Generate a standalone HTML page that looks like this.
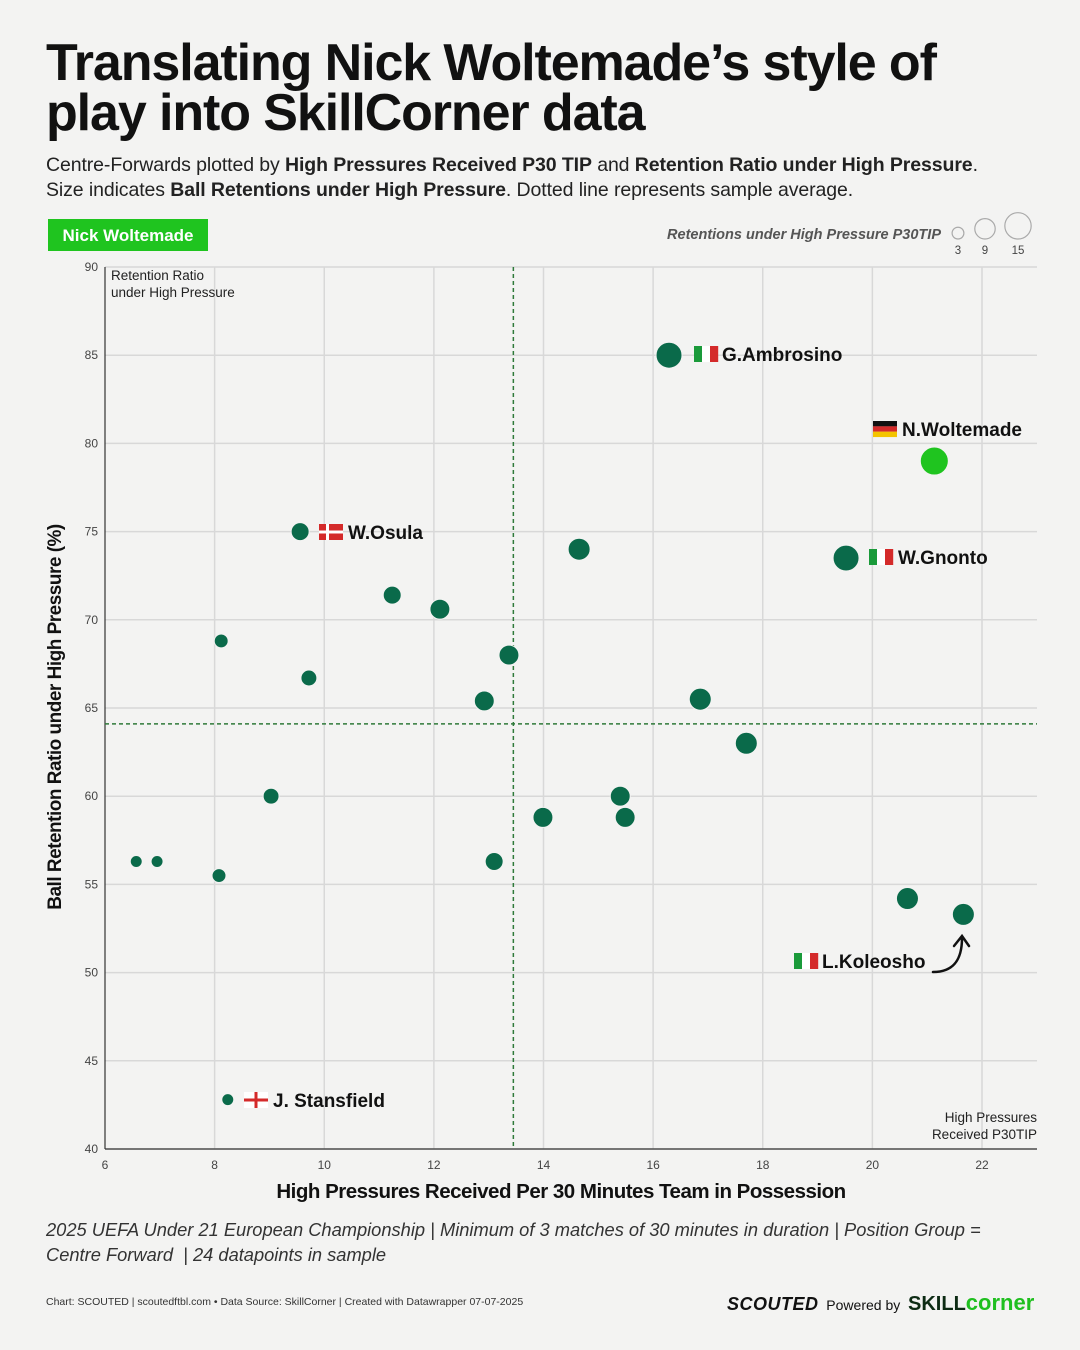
<!DOCTYPE html>
<html><head><meta charset="utf-8"><style>
body{margin:0;background:#f3f3f2;font-family:"Liberation Sans",sans-serif;}
#wrap{position:relative;width:1080px;height:1350px;overflow:hidden;background:#f3f3f2;}
h1{position:absolute;left:46px;top:38px;margin:0;font-size:52px;line-height:50px;font-weight:900;letter-spacing:-1.1px;color:#111;width:1030px;white-space:nowrap;}
.sub{position:absolute;left:46px;top:153px;font-size:19.5px;line-height:25px;color:#222;letter-spacing:-0.1px;}
.foot{position:absolute;left:46px;top:1217px;font-size:18.3px;line-height:25px;font-style:italic;color:#333;}
.src{position:absolute;left:46px;top:1296px;font-size:10.5px;color:#333;}
</style></head><body><div id="wrap">
<h1>Translating Nick Woltemade’s style of<br>play into SkillCorner data</h1>
<div class="sub">Centre-Forwards plotted by <b>High Pressures Received P30 TIP</b> and <b>Retention Ratio under High Pressure</b>.<br>Size indicates <b>Ball Retentions under High Pressure</b>. Dotted line represents sample average.</div>
<svg id="chart" width="1080" height="1350" style="position:absolute;left:0;top:0" font-family="Liberation Sans, sans-serif"></svg>
<div class="foot">2025 UEFA Under 21 European Championship | Minimum of 3 matches of 30 minutes in duration | Position Group =<br>Centre Forward &nbsp;| 24 datapoints in sample</div>
<div class="src">Chart: SCOUTED | scoutedftbl.com • Data Source: SkillCorner | Created with Datawrapper 07-07-2025</div>
<div style="position:absolute;left:727px;top:1290px;font-size:14px;color:#111;white-space:nowrap"><b style="font-style:italic;font-weight:900;font-size:18px;letter-spacing:0.5px">SCOUTED</b>&nbsp; Powered by &nbsp;<b style="font-size:20px;color:#0d2b14">SKILL</b><b style="font-size:22px;color:#1fbf1f">corner</b></div>
</div>
<script>
const names=["G.Ambrosino","N.Woltemade","W.Gnonto","W.Osula","p5","p6","p7","p8","p9","p10","p11","p12","p13","p14","p15","p16","p17","p18","p19","p20","p21","p22","L.Koleosho","J. Stansfield"];
const pressures=[16.29,21.13,19.52,9.56,14.65,11.24,12.11,8.12,13.37,9.72,12.92,16.86,17.7,9.03,15.4,13.99,15.49,6.57,6.95,13.1,8.08,20.64,21.66,8.24];
const retentionRatio=[85,79,73.5,75,74,71.4,70.6,68.8,68,66.7,65.4,65.5,63,60,60,58.8,58.8,56.3,56.3,56.3,55.5,54.2,53.3,42.8];
const retentions=[14.6,17,14.6,7,10.5,7,8.6,4.2,8.6,5.5,8.6,10.5,10.5,5.5,8.6,8.6,8.6,3.1,3.1,7,4.2,10.5,10.5,3.1];
const xTicks=[6,8,10,12,14,16,18,20,22];
const yTicks=[40,45,50,55,60,65,70,75,80,85,90];
const avgX=13.45, avgY=64.1;
const svg=document.getElementById('chart');const NS='http://www.w3.org/2000/svg';
const X=v=>105+(v-6)*54.8125, Y=v=>1149-(v-40)*17.64, R=v=>3.4*Math.sqrt(v);
function mk(t,a,txt){const e=document.createElementNS(NS,t);for(const k in a)e.setAttribute(k,a[k]);if(txt!=null)e.textContent=txt;svg.appendChild(e);return e;}
yTicks.forEach(t=>{const l=mk('line',{x1:105,x2:1037,y1:Y(t),y2:Y(t),stroke:'#d8d8d8','stroke-width':1.5});

const tx=mk('text',{x:98,y:Y(t)+4,'text-anchor':'end','font-size':12,fill:'#444'},t);
});
xTicks.forEach(t=>{if(t>6){const l=mk('line',{x1:X(t),x2:X(t),y1:267,y2:1149,stroke:'#d8d8d8','stroke-width':1.5});
}
const tx=mk('text',{x:X(t),y:1169,'text-anchor':'middle','font-size':12,fill:'#444'},t);
});
let ax=mk('line',{x1:105,x2:105,y1:267,y2:1149,stroke:'#333','stroke-width':1.2});
ax=mk('line',{x1:105,x2:1037,y1:1149,y2:1149,stroke:'#333','stroke-width':1.2});
let a=mk('line',{x1:X(avgX),x2:X(avgX),y1:267,y2:1149,stroke:'#2f7a3a','stroke-width':1.5,'stroke-dasharray':'4,3'});
a=mk('line',{x1:105,x2:1037,y1:Y(avgY),y2:Y(avgY),stroke:'#2f7a3a','stroke-width':1.5,'stroke-dasharray':'4,3'});
pressures.forEach((p,i)=>{const c=mk('circle',{cx:X(p),cy:Y(retentionRatio[i]),r:R(retentions[i]),fill:names[i]=='N.Woltemade'?'#1fc41f':'#0a6a4a',stroke:'#f3f3f2','stroke-width':1});
});
function flag(x,y,cols,name){const g=document.createElementNS(NS,'g');svg.appendChild(g);
if(cols.h){cols.c.forEach((c,k)=>{const r=document.createElementNS(NS,'rect');r.setAttribute('x',x);r.setAttribute('y',y+k*5.33);r.setAttribute('width',24);r.setAttribute('height',5.4);r.setAttribute('fill',c);g.appendChild(r);});}
else cols.c.forEach((c,k)=>{const r=document.createElementNS(NS,'rect');r.setAttribute('x',x+k*8);r.setAttribute('y',y);r.setAttribute('width',8.2);r.setAttribute('height',16);r.setAttribute('fill',c);g.appendChild(r);});}
const it={c:['#1a9a3a','#fff','#d42a2a']};
function lab(x,y,t,n){const e=mk('text',{x:x,y:y,'font-size':19,'font-weight':'bold',fill:'#111'},t);}
flag(694,346,it,'italy-flag');lab(722,361,'G.Ambrosino','label-ambrosino');
flag(873,421,{h:1,c:['#111','#d42a2a','#f4c400']},'germany-flag');lab(902,436,'N.Woltemade','label-woltemade');
flag(869,549,it,'italy-flag');lab(898,564,'W.Gnonto','label-gnonto');
flag(794,953,it,'italy-flag');lab(822,968,'L.Koleosho','label-koleosho');
let d=mk('g',{});
d.innerHTML='<rect x="319" y="524" width="24" height="16" fill="#d42a2a"/><rect x="326" y="524" width="3" height="16" fill="#fff"/><rect x="319" y="530.5" width="24" height="3" fill="#fff"/>';
lab(348,539,'W.Osula','label-osula');
d=mk('g',{});
d.innerHTML='<rect x="244" y="1092" width="24" height="16" fill="#fff"/><rect x="254.5" y="1092" width="3" height="16" fill="#d42a2a"/><rect x="244" y="1098.5" width="24" height="3" fill="#d42a2a"/>';
lab(273,1107,'J. Stansfield','label-stansfield');
let ar=mk('path',{d:'M933,972 C955,972 962,958 962,938 M954,946 L962,936 L969,946',fill:'none',stroke:'#111','stroke-width':2.5,'stroke-linecap':'round'});
let t=mk('text',{x:111,y:280,'font-size':13.5,fill:'#222'},'Retention Ratio');
t=mk('text',{x:111,y:297,'font-size':13.5,fill:'#222'},'under High Pressure');
t=mk('text',{x:1037,y:1122,'font-size':13.5,fill:'#222','text-anchor':'end'},'High Pressures');
t=mk('text',{x:1037,y:1139,'font-size':13.5,fill:'#222','text-anchor':'end'},'Received P30TIP');
t=mk('text',{x:561,y:1198,'font-size':20.5,'font-weight':'bold',fill:'#111','text-anchor':'middle','letter-spacing':'-0.5'},'High Pressures Received Per 30 Minutes Team in Possession');
t=mk('text',{x:0,y:0,'font-size':19,'font-weight':'bold',fill:'#111','text-anchor':'middle','letter-spacing':'-0.5',transform:'translate(61,717) rotate(-90)'},'Ball Retention Ratio under High Pressure (%)');
let b=mk('rect',{x:48,y:219,width:160,height:32,fill:'#1fc41f'});
t=mk('text',{x:128,y:241,'font-size':17,'font-weight':'bold',fill:'#fff','text-anchor':'middle'},'Nick Woltemade');
t=mk('text',{x:941,y:239,'font-size':14.5,'font-weight':'bold','font-style':'italic',fill:'#555','text-anchor':'end'},'Retentions under High Pressure P30TIP');
const legendSizes=[3,9,15];const legendX=[958,985,1018];
legendSizes.forEach((v,i)=>{const r=R(v);const c=mk('circle',{cx:legendX[i],cy:239-r,r:r,fill:'none',stroke:'#aaa','stroke-width':1.2});
const tx=mk('text',{x:legendX[i],y:254,'font-size':11.5,fill:'#444','text-anchor':'middle'},v);});
</script></body></html>
